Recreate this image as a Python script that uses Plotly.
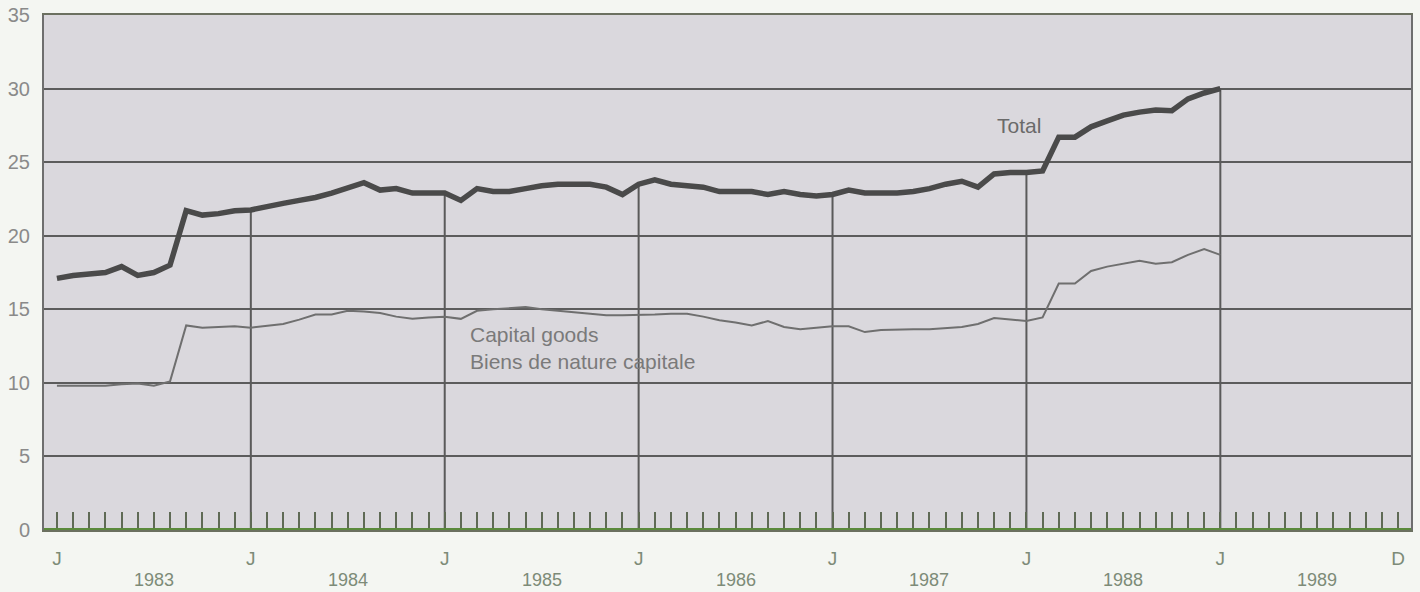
import plotly.graph_objects as go

# Monthly series, January 1983 .. January 1989 (month index 0 = Jan 1983)
total = [17.1, 17.3, 17.4, 17.5, 17.9, 17.3, 17.5, 18.0, 21.7, 21.4, 21.5, 21.7,
         21.75, 22.0, 22.2, 22.4, 22.6, 22.9, 23.3, 23.6, 23.1, 23.2, 22.9, 22.9,
         22.9, 22.4, 23.2, 23.0, 23.0, 23.2, 23.4, 23.5, 23.5, 23.5, 23.3, 22.8,
         23.5, 23.8, 23.5, 23.4, 23.3, 23.0, 23.0, 23.0, 22.8, 23.0, 22.8, 22.7,
         22.8, 23.1, 22.9, 22.9, 22.9, 23.0, 23.2, 23.5, 23.7, 23.3, 24.2, 24.3,
         24.3, 24.4, 26.7, 26.7, 27.4, 27.8, 28.2, 28.4, 28.55, 28.5, 29.3, 29.7,
         30.0]
capital = [9.8, 9.8, 9.75, 9.8, 9.9, 9.95, 9.8, 10.1, 13.9, 13.75, 13.8, 13.85,
           13.75, 13.9, 14.0, 14.3, 14.65, 14.65, 14.9, 14.85, 14.75, 14.5, 14.35, 14.45,
           14.5, 14.35, 14.9, 15.0, 15.1, 15.15, 15.0, 14.9, 14.75, 14.7, 14.6, 14.6,
           14.6, 14.65, 14.7, 14.7, 14.5, 14.25, 14.1, 13.9, 14.2, 13.8, 13.65, 13.75,
           13.85, 13.85, 13.45, 13.6, 13.65, 13.65, 13.65, 13.7, 13.8, 14.0, 14.4, 14.3,
           14.2, 14.45, 16.75, 16.75, 17.6, 17.9, 18.1, 18.3, 18.1, 18.2, 18.7, 19.1,
           18.7]
years = [1983, 1984, 1985, 1986, 1987, 1988, 1989]
month_letters = ["J", "D"]
y_ticks = [0, 5, 10, 15, 20, 25, 30, 35]

n_months_axis = 12 * len(years)          # 84 months on the axis
months = list(range(len(total)))

FONT = "Liberation Sans, Arial, sans-serif"

fig = go.Figure()

# vertical January lines rising to the Total line
vx, vy = [], []
for m in months:
    if m > 0 and m % 12 == 0:
        vx += [m, m, None]
        vy += [0, total[m], None]
fig.add_trace(go.Scatter(x=vx, y=vy, mode="lines",
                         line=dict(color="#5a5a5a", width=2),
                         hoverinfo="skip", showlegend=False))

fig.add_trace(go.Scatter(x=months, y=capital, mode="lines", name="Capital goods",
                         line=dict(color="#6f6f6f", width=2), showlegend=False))
fig.add_trace(go.Scatter(x=months, y=total, mode="lines", name="Total",
                         line=dict(color="#4a4a4a", width=5.5), showlegend=False))

# green baseline
fig.add_shape(type="line", xref="paper", yref="y", x0=0, x1=1, y0=0, y1=0,
              line=dict(color="#5b8a3c", width=4), layer="above")

jan_vals = [12 * i for i in range(len(years))] + [n_months_axis - 1]
jan_text = [month_letters[0]] * len(years) + [month_letters[1]]

fig.update_xaxes(range=[-0.8, n_months_axis - 0.2], automargin=False,
                 tickvals=jan_vals, ticktext=jan_text,
                 ticks="inside", ticklen=18, tickwidth=2, tickcolor="#5f6a55",
                 minor=dict(ticks="inside", dtick=1, tick0=0, ticklen=18,
                            tickwidth=2, tickcolor="#5f6a55"),
                 showgrid=False, zeroline=False,
                 showline=True, mirror=True, linecolor="#6b7060", linewidth=2,
                 tickfont=dict(family=FONT, size=19, color="#7d8b78"),
                 ticklabelstandoff=10)
fig.update_yaxes(range=[0, 35], tickvals=y_ticks, automargin=False,
                 showgrid=True, gridcolor="#5c5c5c", gridwidth=2,
                 zeroline=False, showline=True, mirror=True,
                 linecolor="#6e6e6e", linewidth=2,
                 tickfont=dict(family=FONT, size=20, color="#8a8a8a"),
                 ticklabelstandoff=8)

for i, yr in enumerate(years):
    fig.add_annotation(x=12 * i + 6, y=0, xref="x", yref="paper", yanchor="middle",
                       yshift=-50, borderpad=0, text=str(yr),
                       showarrow=False,
                       font=dict(family=FONT, size=18, color="#7d8b78"))

fig.add_annotation(x=61.0, y=27.5, xref="x", yref="y", xanchor="right",
                   text="Total", showarrow=False,
                   font=dict(family=FONT, size=21, color="#6a6a6a"))
fig.add_annotation(x=25.45, y=12.4, xref="x", yref="y", xanchor="left",
                   align="left", text="Capital goods<br>Biens de nature capitale",
                   showarrow=False,
                   font=dict(family=FONT, size=21, color="#7a7a7a"))

fig.update_layout(width=1420, height=592,
                  margin=dict(l=44, r=9, t=15, b=62),
                  plot_bgcolor="#dad8dd", paper_bgcolor="#f4f6f2")

fig.write_html("out.html", config={"displayModeBar": False},
               post_script="document.body.style.margin='0';"
                           "document.body.style.background='#f4f6f2';")
